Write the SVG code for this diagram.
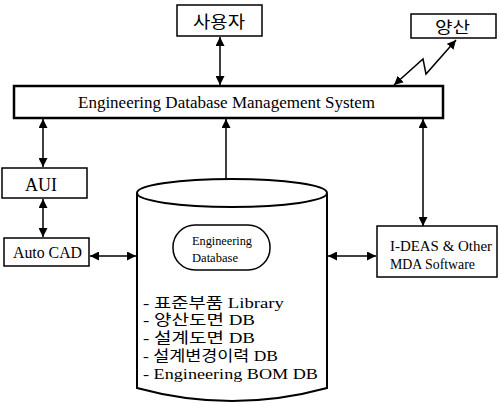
<svg xmlns="http://www.w3.org/2000/svg" width="499" height="403" viewBox="0 0 499 403">
<style>
.box{fill:#fff;stroke:#000;stroke-width:1.5}
.t{font-family:"Liberation Serif","Noto Sans CJK KR",serif;fill:#000}
.k{font-family:"Liberation Serif","Noto Sans CJK KR",serif;fill:#000}
.c{stroke:#000;stroke-width:1.5;fill:none}
</style>
<defs>
<marker id="ah" viewBox="0 0 10 10" refX="10" refY="5" markerWidth="9" markerHeight="9" markerUnits="userSpaceOnUse" orient="auto-start-reverse">
<path d="M0,0 L10,5 L0,10 z" fill="#000"/>
</marker>
</defs>
<rect width="499" height="403" fill="#fff"/>
<g id="connectors">
<line class="c" x1="220" y1="37" x2="220" y2="85" marker-start="url(#ah)" marker-end="url(#ah)"/>
<polyline class="c" points="394,85 423,59 426,74 456,40" marker-start="url(#ah)" marker-end="url(#ah)"/>
<line class="c" x1="43" y1="119" x2="43" y2="167" marker-start="url(#ah)" marker-end="url(#ah)"/>
<line class="c" x1="43" y1="199" x2="43" y2="237" marker-start="url(#ah)" marker-end="url(#ah)"/>
<line class="c" x1="226" y1="180" x2="226" y2="119" marker-end="url(#ah)"/>
<line class="c" x1="423" y1="119" x2="423" y2="226" marker-start="url(#ah)" marker-end="url(#ah)"/>
<line class="c" x1="90" y1="256" x2="136" y2="256" marker-start="url(#ah)" marker-end="url(#ah)"/>
<line class="c" x1="328" y1="256" x2="376" y2="256" marker-start="url(#ah)" marker-end="url(#ah)"/>
</g>
<g id="user">
<rect class="box" x="177" y="5" width="85" height="31"/>
<text class="k" x="193" y="28" font-size="17" textLength="52" lengthAdjust="spacingAndGlyphs">사용자</text>
</g>
<g id="production">
<rect class="box" x="411" y="14" width="85" height="24"/>
<text class="k" x="435" y="33" font-size="16" textLength="35" lengthAdjust="spacingAndGlyphs">양산</text>
</g>
<g id="edbms">
<rect x="14" y="86" width="429" height="32" fill="#fff" stroke="#000" stroke-width="2.5"/>
<text class="t" x="78" y="108" font-size="16" textLength="297" lengthAdjust="spacingAndGlyphs">Engineering Database Management System</text>
</g>
<g id="aui">
<rect class="box" x="2" y="168" width="85" height="30"/>
<text class="t" x="25" y="191" font-size="18" textLength="32" lengthAdjust="spacingAndGlyphs">AUI</text>
</g>
<g id="autocad">
<rect class="box" x="4" y="238" width="85" height="28"/>
<text class="t" x="13" y="258" font-size="16" textLength="69" lengthAdjust="spacingAndGlyphs">Auto CAD</text>
</g>
<g id="ideas">
<rect class="box" x="377" y="226" width="120" height="51"/>
<text class="t" x="390" y="251" font-size="15" textLength="102" lengthAdjust="spacingAndGlyphs">I-DEAS &amp; Other</text>
<text class="t" x="390" y="269" font-size="15" textLength="85" lengthAdjust="spacingAndGlyphs">MDA Software</text>
</g>
<g id="database">
<path d="M137,193 L137,388 Q232,414 327,388 L327,193" fill="#fff" stroke="#000" stroke-width="2"/>
<ellipse cx="232" cy="193" rx="95" ry="14" fill="#fff" stroke="#000" stroke-width="2"/>
<rect x="173" y="225" width="97" height="45" rx="22" ry="22" fill="#fff" stroke="#000" stroke-width="1.5"/>
<text class="t" x="192" y="245" font-size="13" textLength="60" lengthAdjust="spacingAndGlyphs">Engineering</text>
<text class="t" x="192" y="262" font-size="13" textLength="46" lengthAdjust="spacingAndGlyphs">Database</text>
<text class="k" x="143" y="308" font-size="15" textLength="141" lengthAdjust="spacingAndGlyphs">- 표준부품 Library</text>
<text class="k" x="143" y="325" font-size="15" textLength="112" lengthAdjust="spacingAndGlyphs">- 양산도면 DB</text>
<text class="k" x="143" y="343" font-size="15" textLength="112" lengthAdjust="spacingAndGlyphs">- 설계도면 DB</text>
<text class="k" x="143" y="361" font-size="15" textLength="135" lengthAdjust="spacingAndGlyphs">- 설계변경이력 DB</text>
<text class="k" x="143" y="379" font-size="15" textLength="175" lengthAdjust="spacingAndGlyphs">- Engineering BOM DB</text>
</g>
</svg>
